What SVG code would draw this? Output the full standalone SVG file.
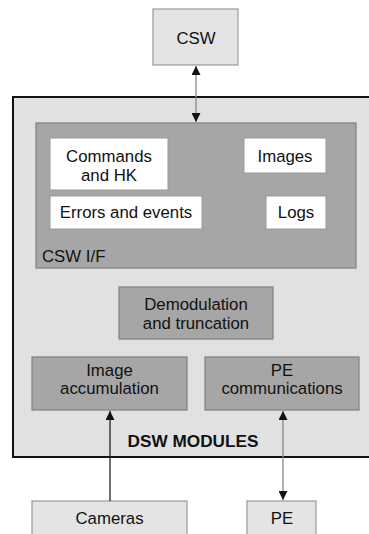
<svg xmlns="http://www.w3.org/2000/svg" width="369" height="534" viewBox="0 0 369 534">
<defs>
<style>
text{font-family:"Liberation Sans",Arial,sans-serif;font-size:16.8px;fill:#111;text-anchor:middle}
.ext{fill:#e4e4e4;stroke:#999;stroke-width:1.2}
.outer{fill:#e1e1e1;stroke:#111;stroke-width:2}
.dark{fill:#a6a6a6;stroke:#808080;stroke-width:1.2}
.white{fill:#fff;stroke:#999;stroke-width:1}
.conn{stroke:#888;stroke-width:1.3;fill:none}
.bold{font-weight:bold;font-size:17.2px}
</style>
<marker id="ah" viewBox="0 0 10 10" refX="10" refY="5" markerWidth="9" markerHeight="9" markerUnits="userSpaceOnUse" orient="auto-start-reverse">
<path d="M0,0 L10,5 L0,10 Z" fill="#111"/>
</marker>
</defs>
<g id="dsw-modules">
<rect class="outer" x="13" y="97" width="362" height="360"/>
<text class="bold" x="193" y="447">DSW MODULES</text>
</g>
<g id="csw"><rect class="ext" x="153" y="9" width="85" height="56"/><text x="196" y="44">CSW</text></g>
<g id="csw-if"><rect class="dark" x="36" y="123" width="320" height="145"/><text x="42" y="262" style="text-anchor:start">CSW I/F</text></g>
<g id="commands"><rect class="white" x="50" y="138" width="118" height="52"/><text x="109" y="162">Commands</text><text x="109" y="180.8">and HK</text></g>
<g id="images"><rect class="white" x="244" y="138" width="82" height="35"/><text x="285" y="162">Images</text></g>
<g id="errors"><rect class="white" x="50" y="196" width="152" height="33"/><text x="126" y="218">Errors and events</text></g>
<g id="logs"><rect class="white" x="266" y="196" width="60" height="33"/><text x="296" y="218">Logs</text></g>
<g id="demod"><rect class="dark" x="119" y="287" width="154" height="52"/><text x="196" y="310">Demodulation</text><text x="196" y="328.8">and truncation</text></g>
<g id="image-acc"><rect class="dark" x="32" y="357" width="155" height="53"/><text x="109.5" y="375.5">Image</text><text x="109.5" y="394.3">accumulation</text></g>
<g id="pe-comm"><rect class="dark" x="205" y="357" width="154" height="53"/><text x="282" y="375.5">PE</text><text x="282" y="394.3">communications</text></g>
<g id="cameras"><rect class="ext" x="32" y="501" width="155" height="40"/><text x="109.5" y="524">Cameras</text></g>
<g id="pe"><rect class="ext" x="247" y="501" width="69" height="40"/><text x="282" y="524">PE</text></g>
<g id="connectors">
<line class="conn" x1="196" y1="66" x2="196" y2="122" marker-start="url(#ah)" marker-end="url(#ah)"/>
<line class="conn" x1="110" y1="501" x2="110" y2="411" marker-end="url(#ah)" style="stroke:#222"/>
<line class="conn" x1="283" y1="411" x2="283" y2="500" marker-start="url(#ah)" marker-end="url(#ah)"/>
</g>
</svg>
